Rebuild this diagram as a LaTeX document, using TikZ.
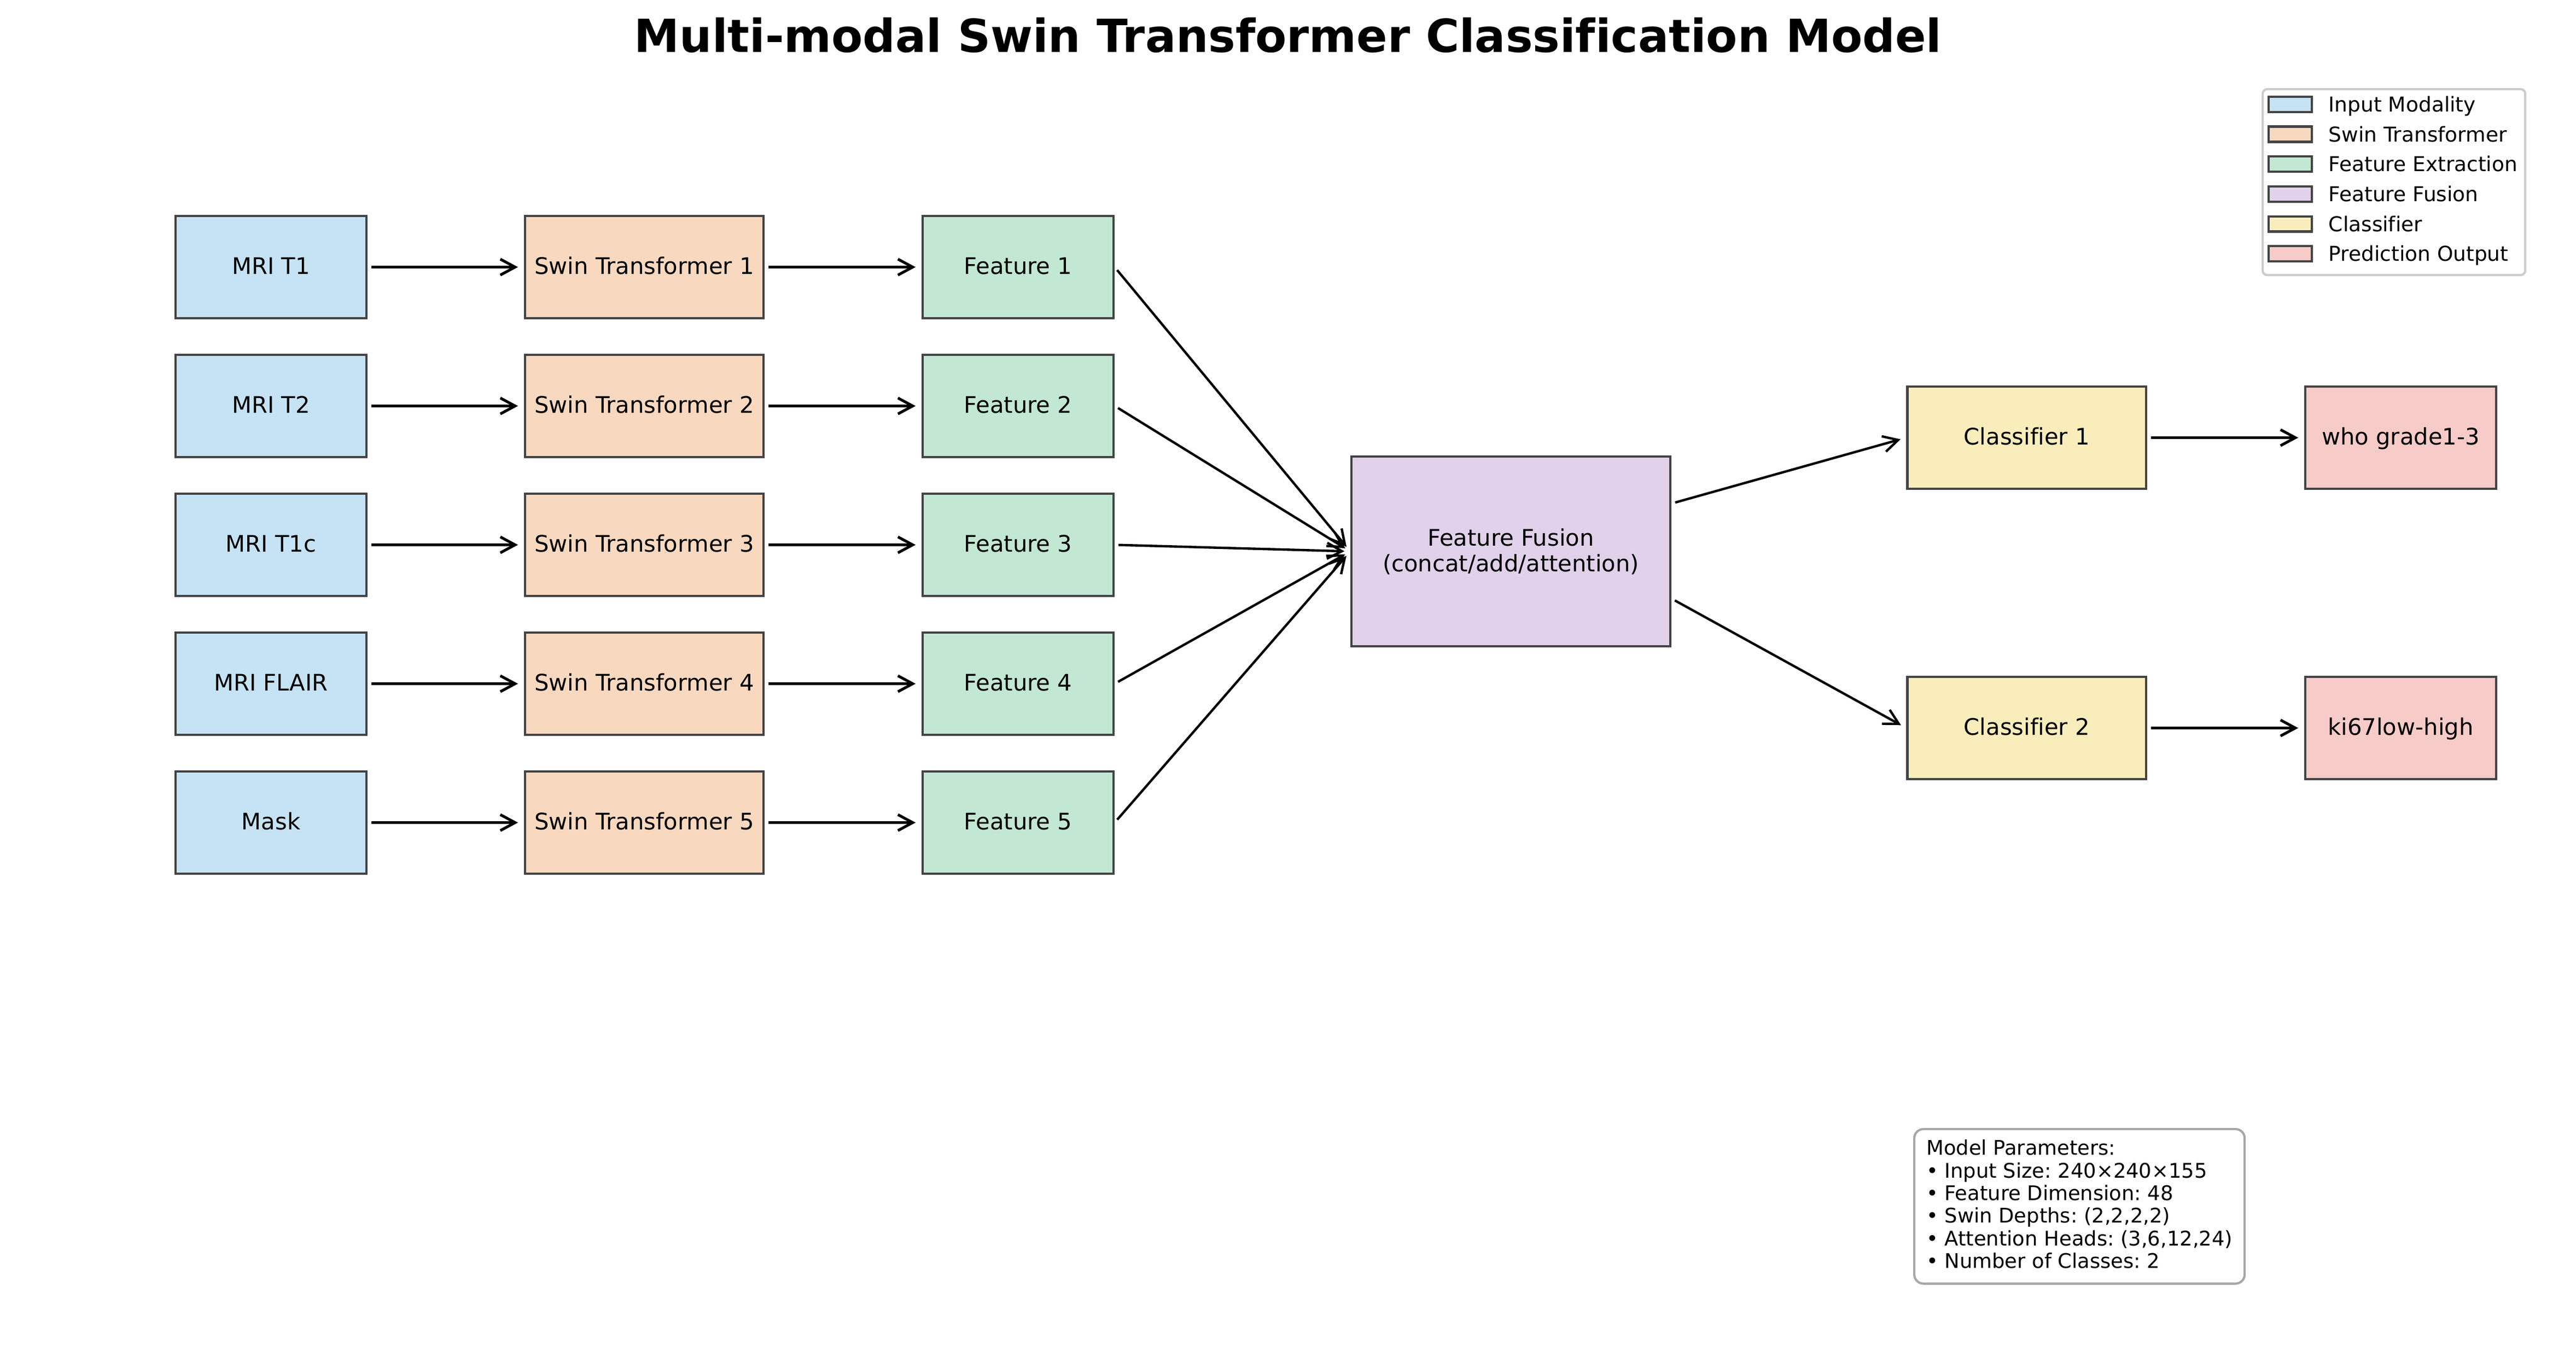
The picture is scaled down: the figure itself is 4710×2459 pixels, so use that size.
\documentclass[tikz,border=0pt]{standalone}
\usepackage{fontspec}
\setmainfont{DejaVu Sans}[Ligatures=NoCommon]
\frenchspacing
\usetikzlibrary{arrows.meta}
\definecolor{cin}{HTML}{C5E3F5}
\definecolor{cswin}{HTML}{F8D9C0}
\definecolor{cfeat}{HTML}{C2E8D3}
\definecolor{cfus}{HTML}{E1D1EA}
\definecolor{ccls}{HTML}{F9EEBB}
\definecolor{cout}{HTML}{F7CBC7}
\definecolor{edgec}{HTML}{444444}
\definecolor{legedge}{HTML}{CCCCCC}
\definecolor{paredge}{HTML}{A8A8A8}
\tikzset{
  box/.style={draw=edgec, line width=1pt, inner sep=0pt, minimum height=44.88pt,
    font=\fontsize{10}{11.3}\selectfont, text height=7.6pt, text depth=1.6pt},
  narrow/.style={box, minimum width=83.76pt},
  wide/.style={box, minimum width=104.8pt},
  arr/.style={-{Straight Barb[length=6.5pt,width=7pt]}, line width=1.2pt, shorten <=1.7pt, shorten >=2.6pt},
  arrd/.style={arr, line width=1.05pt},
  legpatch/.style={draw=edgec, line width=1pt, minimum width=18.96pt, minimum height=6.7pt, inner sep=0pt},
  legtext/.style={anchor=base west, inner sep=0pt, font=\fontsize{9}{10.8}\selectfont},
}
\begin{document}
\begin{tikzpicture}[x=0.24pt,y=-0.24pt]
\useasboundingbox (0,0) rectangle (4710,2459);
\fill[white] (0,0) rectangle (4710,2459);

\node[anchor=base, inner sep=0pt, font=\fontsize{20}{24}\selectfont\bfseries] (title) at (2355,95) {Multi-modal Swin Transformer Classification Model};

% inputs
\node[narrow, fill=cin] (i1) at (495.5,488.5) {MRI T1};
\node[narrow, fill=cin] (i2) at (495.5,742.5) {MRI T2};
\node[narrow, fill=cin] (i3) at (495.5,996.5) {MRI T1c};
\node[narrow, fill=cin] (i4) at (495.5,1250.5) {MRI FLAIR};
\node[narrow, fill=cin] (i5) at (495.5,1504.5) {Mask};
% swin
\node[wide, fill=cswin, minimum width=104.64pt] (s1) at (1178,488.5) {Swin Transformer 1};
\node[wide, fill=cswin, minimum width=104.64pt] (s2) at (1178,742.5) {Swin Transformer 2};
\node[wide, fill=cswin, minimum width=104.64pt] (s3) at (1178,996.5) {Swin Transformer 3};
\node[wide, fill=cswin, minimum width=104.64pt] (s4) at (1178,1250.5) {Swin Transformer 4};
\node[wide, fill=cswin, minimum width=104.64pt] (s5) at (1178,1504.5) {Swin Transformer 5};
% features
\node[narrow, fill=cfeat] (f1) at (1861.5,488.5) {Feature 1};
\node[narrow, fill=cfeat] (f2) at (1861.5,742.5) {Feature 2};
\node[narrow, fill=cfeat] (f3) at (1861.5,996.5) {Feature 3};
\node[narrow, fill=cfeat] (f4) at (1861.5,1250.5) {Feature 4};
\node[narrow, fill=cfeat] (f5) at (1861.5,1504.5) {Feature 5};
% fusion
\node[draw=edgec, line width=1pt, fill=cfus, inner sep=0pt, minimum width=139.92pt, minimum height=83.28pt,
  align=center, font=\fontsize{10}{11.3}\selectfont] (fus) at (2762.5,1008.5) {Feature Fusion\\(concat/add/attention)};
% classifiers
\node[wide, fill=ccls] (c1) at (3705.75,800.5) {Classifier 1};
\node[wide, fill=ccls] (c2) at (3705.75,1331.5) {Classifier 2};
% outputs
\node[narrow, fill=cout] (o1) at (4389.5,800.5) {who grade1-3};
\node[narrow, fill=cout] (o2) at (4389.5,1331.5) {ki67low-high};

% arrows
\foreach \k in {1,...,5}{
  \draw[arr] (i\k.east) -- (s\k.west);
  \draw[arr] (s\k.east) -- (f\k.west);
  \draw[arrd] (f\k.east) -- (fus.west);
}
\draw[arrd] ([yshift=21pt]fus.east) -- (c1.west);
\draw[arrd] ([yshift=-20.7pt]fus.east) -- (c2.west);
\draw[arr] (c1.east) -- (o1.west);
\draw[arr] (c2.east) -- (o2.west);

% legend
\node[draw=legedge, line width=1pt, fill=white, rounded corners=2pt, inner sep=0pt,
  minimum width=115.2pt, minimum height=81.6pt, anchor=north west] (legend) at (4135,161) {};
\foreach \k/\col/\txt in {0/cin/Input Modality,1/cswin/Swin Transformer,2/cfeat/Feature Extraction,3/cfus/Feature Fusion,4/ccls/Classifier,5/cout/Prediction Output}{
  \node[legpatch, fill=\col] (lp\k) at (4187.5,190.8+54.7*\k) {};
  \node[legtext] (lt\k) at (4257,204.3+54.7*\k) {\txt};
}

% parameters
\node[draw=paredge, line width=1pt, fill=white, rounded corners=4pt, anchor=north west,
  inner xsep=5.3pt, inner ysep=4.7pt, align=left, font=\fontsize{8.85}{9.94}\selectfont] (params) at (3498,2063)
  {Model Parameters:\\• Input Size: 240×240×155\\• Feature Dimension: 48\\• Swin Depths: (2,2,2,2)\\• Attention Heads: (3,6,12,24)\\• Number of Classes: 2\rule[-2pt]{0pt}{0pt}};
\end{tikzpicture}
\end{document}
